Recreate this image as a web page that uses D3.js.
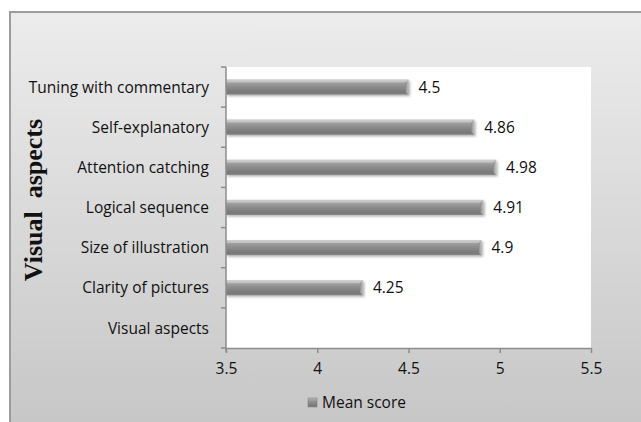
<!DOCTYPE html>
<html>
<head>
<meta charset="utf-8">
<script src="https://cdn.jsdelivr.net/npm/d3@7"></script>
<style>
  html, body { margin: 0; padding: 0; background: #ffffff; }
  svg { display: block; }
</style>
</head>
<body>
<svg id="chart" width="641" height="422"></svg>
<script>
// Categories listed bottom to top, as on the vertical axis
const categories = [
  "Visual aspects",
  "Clarity of pictures",
  "Size of illustration",
  "Logical sequence",
  "Attention catching",
  "Self-explanatory",
  "Tuning with commentary"
];
// Mean score per category (null = no bar)
const meanScores = [null, 4.25, 4.9, 4.91, 4.98, 4.86, 4.5];
const xTicks = [3.5, 4, 4.5, 5, 5.5];
const seriesName = "Mean score";
const axisTitle = "Visual  aspects";

const W = 641, H = 422;
const svg = d3.select("#chart");
const defs = svg.append("defs");

// Chart background: soft grey vertical gradient
const bg = defs.append("linearGradient").attr("id", "bgGrad")
  .attr("x1", 0).attr("y1", 0).attr("x2", 0).attr("y2", 1);
bg.append("stop").attr("offset", "0%").attr("stop-color", "#ececec");
bg.append("stop").attr("offset", "100%").attr("stop-color", "#c5c5c5");

// Bar fill: rounded-looking metallic grey
const barG = defs.append("linearGradient").attr("id", "barGrad")
  .attr("x1", 0).attr("y1", 0).attr("x2", 0).attr("y2", 1);
[["0%", "#c4c4c4"], ["18%", "#a2a2a2"], ["50%", "#8b8b8b"], ["85%", "#777777"], ["100%", "#8a8a8a"]]
  .forEach(([o, c]) => barG.append("stop").attr("offset", o).attr("stop-color", c));

const endG = defs.append("linearGradient").attr("id", "endGrad")
  .attr("x1", 0).attr("y1", 0).attr("x2", 1).attr("y2", 0);
endG.append("stop").attr("offset", "0%").attr("stop-color", "#8a8a8a");
endG.append("stop").attr("offset", "100%").attr("stop-color", "#c4c4c4");

const shadow = defs.append("filter").attr("id", "barShadow")
  .attr("x", "-5%").attr("y", "-30%").attr("width", "115%").attr("height", "180%");
shadow.append("feDropShadow").attr("dx", 1.5).attr("dy", 1.5).attr("stdDeviation", 1.2)
  .attr("flood-color", "#000").attr("flood-opacity", 0.3);

// Outer chart frame
svg.append("rect")
  .attr("x", 10).attr("y", 12).attr("width", W + 10).attr("height", H + 10)
  .attr("fill", "url(#bgGrad)")
  .attr("stroke", "#9c9c9c").attr("stroke-width", 2);

// Plot area
const plot = { left: 226, right: 591, top: 67, bottom: 348 };
const x = d3.scaleLinear().domain([3.5, 5.5]).range([plot.left, plot.right]);
const y = d3.scaleBand().domain(categories.slice().reverse())
  .range([plot.top, plot.bottom]).paddingInner(0.62).paddingOuter(0.31);

svg.append("rect")
  .attr("x", plot.left).attr("y", plot.top)
  .attr("width", plot.right - plot.left).attr("height", plot.bottom - plot.top)
  .attr("fill", "#ffffff");

const labelFont = "'Open Sans', 'DejaVu Sans', sans-serif";
const labelSize = 15.5;
const textColor = "#111";

// Bars
const data = categories.map((c, i) => ({ cat: c, v: meanScores[i] })).filter(d => d.v != null);
const bars = svg.append("g");
bars.selectAll("g.bar").data(data).join("g").attr("class", "bar")
  .each(function (d) {
    const g = d3.select(this);
    const y0 = y(d.cat), bh = y.bandwidth();
    const x0 = x(3.5), x1 = x(d.v);
    g.append("rect")
      .attr("x", x0).attr("y", y0).attr("width", x1 - x0).attr("height", bh)
      .attr("fill", "url(#barGrad)").attr("filter", "url(#barShadow)");
    // bevelled right end
    const b = 3;
    g.append("path")
      .attr("d", `M${x1 - b},${y0 + b} L${x1},${y0} L${x1},${y0 + bh} L${x1 - b},${y0 + bh - b} Z`)
      .attr("fill", "url(#endGrad)");
    g.append("path")
      .attr("d", `M${x0},${y0} L${x1},${y0} L${x1 - b},${y0 + b} L${x0},${y0 + b} Z`)
      .attr("fill", "#d6d6d6").attr("opacity", 0.6);
  });

// Value labels
svg.append("g").selectAll("text").data(data).join("text")
  .attr("x", d => x(d.v) + 10)
  .attr("y", d => y(d.cat) + y.bandwidth() / 2)
  .attr("dy", "0.36em")
  .attr("font-family", labelFont).attr("font-size", labelSize).attr("fill", textColor)
  .text(d => d.v);

// Axes
const axisColor = "#8c8c8c";
const yBand = d3.scaleBand().domain(categories.slice().reverse()).range([plot.top, plot.bottom]);
const yAxis = svg.append("g");
yAxis.append("line")
  .attr("x1", plot.left).attr("x2", plot.left)
  .attr("y1", plot.top).attr("y2", plot.bottom + 4)
  .attr("stroke", axisColor).attr("stroke-width", 1.5);
const boundaries = d3.range(categories.length + 1).map(i => plot.top + i * yBand.step());
yAxis.selectAll("line.tick").data(boundaries).join("line").attr("class", "tick")
  .attr("x1", plot.left - 5).attr("x2", plot.left)
  .attr("y1", d => d).attr("y2", d => d)
  .attr("stroke", axisColor).attr("stroke-width", 1.5);
yAxis.selectAll("text").data(categories).join("text")
  .attr("x", plot.left - 17)
  .attr("y", d => yBand(d) + yBand.bandwidth() / 2)
  .attr("dy", "0.36em").attr("text-anchor", "end")
  .attr("font-family", labelFont).attr("font-size", labelSize).attr("fill", textColor)
  .text(d => d);

const xAxis = svg.append("g").attr("transform", `translate(0,${plot.bottom})`)
  .call(d3.axisBottom(x).tickValues(xTicks).tickSize(5).tickSizeOuter(0).tickPadding(10)
    .tickFormat(d3.format("")));
xAxis.select(".domain").attr("stroke", axisColor).attr("stroke-width", 1.5);
xAxis.selectAll(".tick line").attr("stroke", axisColor).attr("stroke-width", 1.5);
xAxis.selectAll(".tick text")
  .attr("font-family", labelFont).attr("font-size", labelSize).attr("fill", textColor);

// Vertical axis title
svg.append("text")
  .attr("transform", "translate(42,200) rotate(-90)")
  .attr("text-anchor", "middle")
  .attr("font-family", "'Liberation Serif', 'DejaVu Serif', serif")
  .attr("font-weight", "bold").attr("font-size", 26).attr("fill", "#111")
  .attr("xml:space", "preserve").style("white-space", "pre")
  .text(axisTitle);

// Legend
const lg = svg.append("g").attr("transform", "translate(308,398)");
lg.append("rect").attr("width", 9).attr("height", 9)
  .attr("fill", "url(#barGrad)").attr("stroke", "#777").attr("stroke-width", 0.5);
lg.append("text").attr("x", 14).attr("y", 4.5).attr("dy", "0.36em")
  .attr("font-family", labelFont).attr("font-size", labelSize).attr("fill", textColor)
  .text(seriesName);
</script>
</body>
</html>
